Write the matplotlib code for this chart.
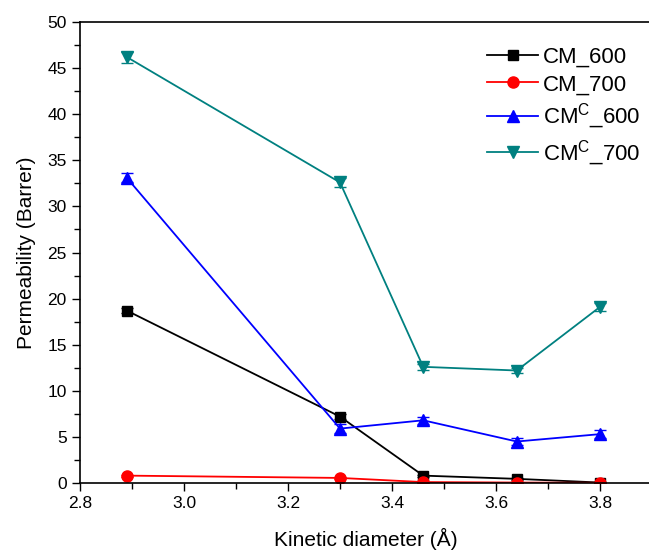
import matplotlib.pyplot as plt
from matplotlib.ticker import MultipleLocator

plt.rcParams['font.family'] = ['Liberation Sans', 'DejaVu Sans']

diameter = [2.89, 3.30, 3.46, 3.64, 3.80]

cm_600 = [18.7, 7.2, 0.8, 0.45, 0.05]
cm_700 = [0.8, 0.55, 0.1, 0.05, 0.02]
cmc_600 = [33.1, 5.9, 6.8, 4.5, 5.3]
cmc_700 = [46.2, 32.6, 12.6, 12.2, 19.1]

err_cm_600 = [0.3, 0.3, 0.1, 0.1, 0.05]
err_cm_700 = [0.1, 0.1, 0.05, 0.05, 0.02]
err_cmc_600 = [0.5, 0.5, 0.4, 0.4, 0.4]
err_cmc_700 = [0.6, 0.5, 0.3, 0.3, 0.4]

series = [
    ('CM_600', cm_600, err_cm_600, 'black', 's', 7),
    ('CM_700', cm_700, err_cm_700, 'red', 'o', 8),
    ('CM$^{\\mathregular{C}}$_600', cmc_600, err_cmc_600, 'blue', '^', 8.5),
    ('CM$^{\\mathregular{C}}$_700', cmc_700, err_cmc_700, '#008080', 'v', 8.5),
]

fig = plt.figure(figsize=(6.49, 5.54), dpi=100)
ax = fig.add_axes([80 / 649, 71 / 554, 572 / 649, 461 / 554])

for label, vals, err, color, marker, ms in series:
    ax.errorbar(diameter, vals, yerr=err, color=color, fmt='none',
                capsize=4, elinewidth=1)
    ax.plot(diameter, vals, color=color, marker=marker, markersize=ms,
            linewidth=1.3, label=label)

ax.set_xlim(2.8, 3.9)
ax.set_ylim(0, 50)
ax.xaxis.set_major_locator(MultipleLocator(0.2))
ax.xaxis.set_minor_locator(MultipleLocator(0.1))
ax.yaxis.set_major_locator(MultipleLocator(5))
ax.yaxis.set_minor_locator(MultipleLocator(2.5))
ax.tick_params(which='both', direction='out', labelsize=12.5, width=1)
ax.tick_params(which='major', length=6)
ax.tick_params(which='minor', length=4)
for s in ax.spines.values():
    s.set_linewidth(1.2)

ax.set_xlabel('Kinetic diameter (Å)', fontsize=15, labelpad=12)
ax.set_ylabel('Permeability (Barrer)', fontsize=15, labelpad=8)

ax.legend(loc='upper left', bbox_to_anchor=(0.677, 0.99), frameon=False,
          fontsize=16, handlelength=2.3, handletextpad=0.2, labelspacing=0.3)

fig.savefig('out.png', dpi=100)
